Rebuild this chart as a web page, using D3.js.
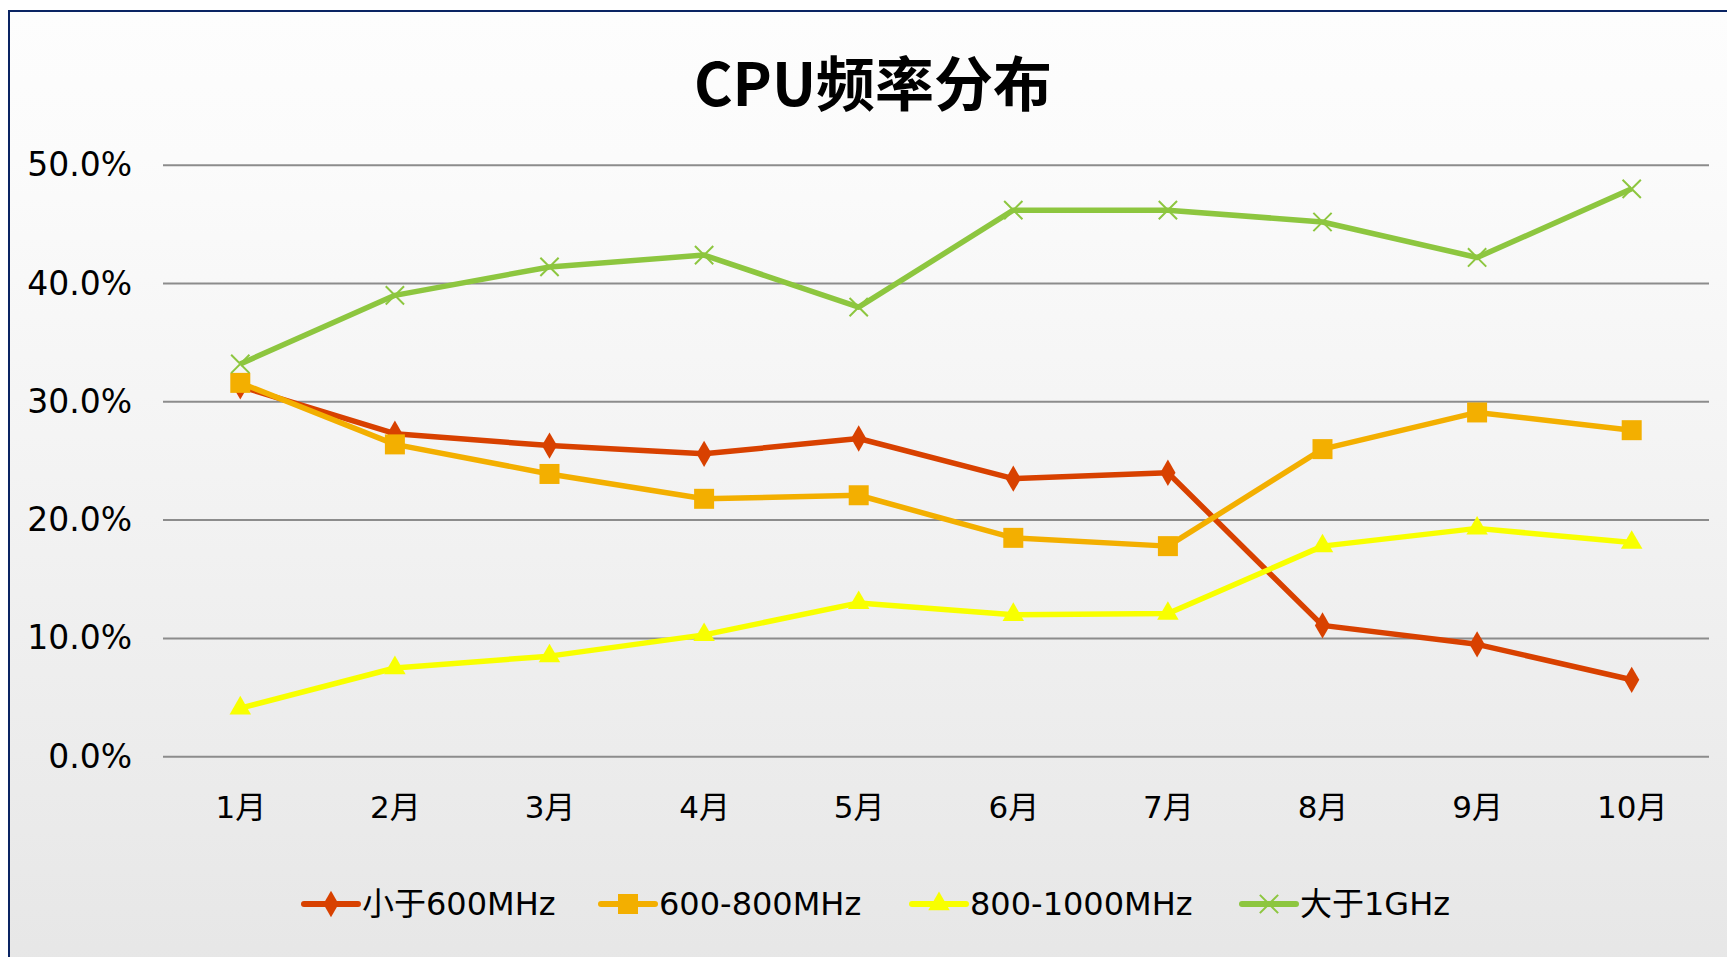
<!DOCTYPE html>
<html>
<head>
<meta charset="utf-8">
<script src="https://cdn.jsdelivr.net/npm/d3@7"></script>
<style>
  html, body { margin: 0; padding: 0; background: #fff; }
  svg { display: block; }
</style>
</head>
<body>
<div id="chart"></div>
<script>
const months = ['1月', '2月', '3月', '4月', '5月', '6月', '7月', '8月', '9月', '10月'];
const seriesNames = ['小于600MHz', '600-800MHz', '800-1000MHz', '大于1GHz'];
const below600 = [0.313, 0.273, 0.263, 0.256, 0.269, 0.235, 0.240, 0.111, 0.095, 0.065];
const mhz600to800 = [0.316, 0.264, 0.239, 0.218, 0.221, 0.185, 0.178, 0.260, 0.291, 0.276];
const mhz800to1000 = [0.041, 0.075, 0.085, 0.103, 0.130, 0.120, 0.121, 0.178, 0.193, 0.181];
const above1g = [0.332, 0.390, 0.414, 0.424, 0.380, 0.462, 0.462, 0.452, 0.422, 0.480];
const yTicks = [0, 0.1, 0.2, 0.3, 0.4, 0.5];

const W = 1727, H = 957;
const colors = ['#d84100', '#f3af00', '#f8ff00', '#8dc63f'];
const shapes = [d3.symbolDiamond, d3.symbolSquare, d3.symbolTriangle, d3.symbolTimes];
const sizes = [200, 400, 200, 220];
const labelFont = '"DejaVu Sans", "Noto Sans CJK SC", sans-serif';

const series = seriesNames.map((name, i) => ({
    name,
    values: [below600, mhz600to800, mhz800to1000, above1g][i],
    color: colors[i],
    shape: shapes[i],
    size: sizes[i]
}));

const svg = d3.select('#chart').append('svg')
    .attr('width', W)
    .attr('height', H);

// background gradient
const grad = svg.append('defs').append('linearGradient')
    .attr('id', 'bg').attr('x1', 0).attr('y1', 0).attr('x2', 0).attr('y2', 1);
grad.append('stop').attr('offset', '0%').attr('stop-color', '#fdfdfd');
grad.append('stop').attr('offset', '15%').attr('stop-color', '#fbfbfb');
grad.append('stop').attr('offset', '100%').attr('stop-color', '#e6e6e6');

svg.append('rect')
    .attr('x', 9).attr('y', 11)
    .attr('width', W + 20).attr('height', H + 20)
    .attr('fill', 'url(#bg)')
    .attr('stroke', '#0a2463')
    .attr('stroke-width', 2);

// title
svg.append('text')
    .attr('x', 873).attr('y', 80)
    .attr('text-anchor', 'middle')
    .attr('dominant-baseline', 'central')
    .style('font-family', '"Noto Sans CJK SC", sans-serif')
    .style('font-weight', 700)
    .style('font-size', '59px')
    .attr('fill', '#000')
    .text('CPU频率分布');

const x = d3.scalePoint().domain(months).range([163, 1709]).padding(0.5);
const y = d3.scaleLinear().domain([0, 0.5]).range([756.7, 165.2]);

// gridlines
svg.append('g')
    .selectAll('line')
    .data(yTicks)
    .join('line')
    .attr('x1', 163).attr('x2', 1709)
    .attr('y1', d => y(d)).attr('y2', d => y(d))
    .attr('stroke', '#8c8c8c')
    .attr('stroke-width', 2);

// y axis labels
const yAxis = d3.axisLeft(y).tickValues(yTicks).tickFormat(d3.format('.1%')).tickSize(0).tickPadding(0);
const yg = svg.append('g').attr('transform', 'translate(132,0)').call(yAxis);
yg.select('.domain').remove();
yg.selectAll('text')
    .style('font-family', '"DejaVu Sans", Verdana, sans-serif')
    .style('font-size', '33px')
    .attr('fill', '#000');

// x axis labels
const xAxis = d3.axisBottom(x).tickSize(0).tickPadding(0);
const xg = svg.append('g').attr('transform', 'translate(0,807)').call(xAxis);
xg.select('.domain').remove();
xg.selectAll('text')
    .attr('dy', '0.35em')
    .style('font-family', labelFont)
    .style('font-size', '31px')
    .attr('fill', '#000');

// lines
const line = d3.line().x((d, i) => x(months[i])).y(d => y(d));

const sg = svg.append('g')
    .selectAll('g')
    .data(series)
    .join('g');

sg.append('path')
    .attr('d', d => line(d.values))
    .attr('fill', 'none')
    .attr('stroke', d => d.color)
    .attr('stroke-width', 5.5)
    .attr('stroke-linejoin', 'round');

sg.each(function (s) {
    const g = d3.select(this);
    g.selectAll('path.marker')
        .data(s.values)
        .join('path')
        .attr('class', 'marker')
        .attr('transform', (d, i) => `translate(${x(months[i])},${y(d)})`)
        .attr('d', d3.symbol(s.shape, s.size))
        .attr('fill', s.shape === d3.symbolTimes ? 'none' : s.color)
        .attr('stroke', s.color)
        .attr('stroke-width', s.shape === d3.symbolTimes ? 2 : 0);
});

// legend
const legendX = [304, 601, 912, 1242];
const legendY = 904;
const lg = svg.append('g')
    .selectAll('g')
    .data(series)
    .join('g')
    .attr('transform', (d, i) => `translate(${legendX[i]},${legendY})`);

lg.append('line')
    .attr('x1', 0).attr('x2', 54)
    .attr('y1', 0).attr('y2', 0)
    .attr('stroke', d => d.color)
    .attr('stroke-width', 6)
    .attr('stroke-linecap', 'round');

lg.append('path')
    .attr('transform', 'translate(27,0)')
    .attr('d', d => d3.symbol(d.shape, d.size)())
    .attr('fill', d => d.shape === d3.symbolTimes ? 'none' : d.color)
    .attr('stroke', d => d.color)
    .attr('stroke-width', d => d.shape === d3.symbolTimes ? 2 : 0);

lg.append('text')
    .attr('x', 58)
    .attr('y', 0)
    .attr('dy', '0.35em')
    .style('font-family', labelFont)
    .style('font-size', '32px')
    .attr('fill', '#000')
    .text(d => d.name);
</script>
</body>
</html>
